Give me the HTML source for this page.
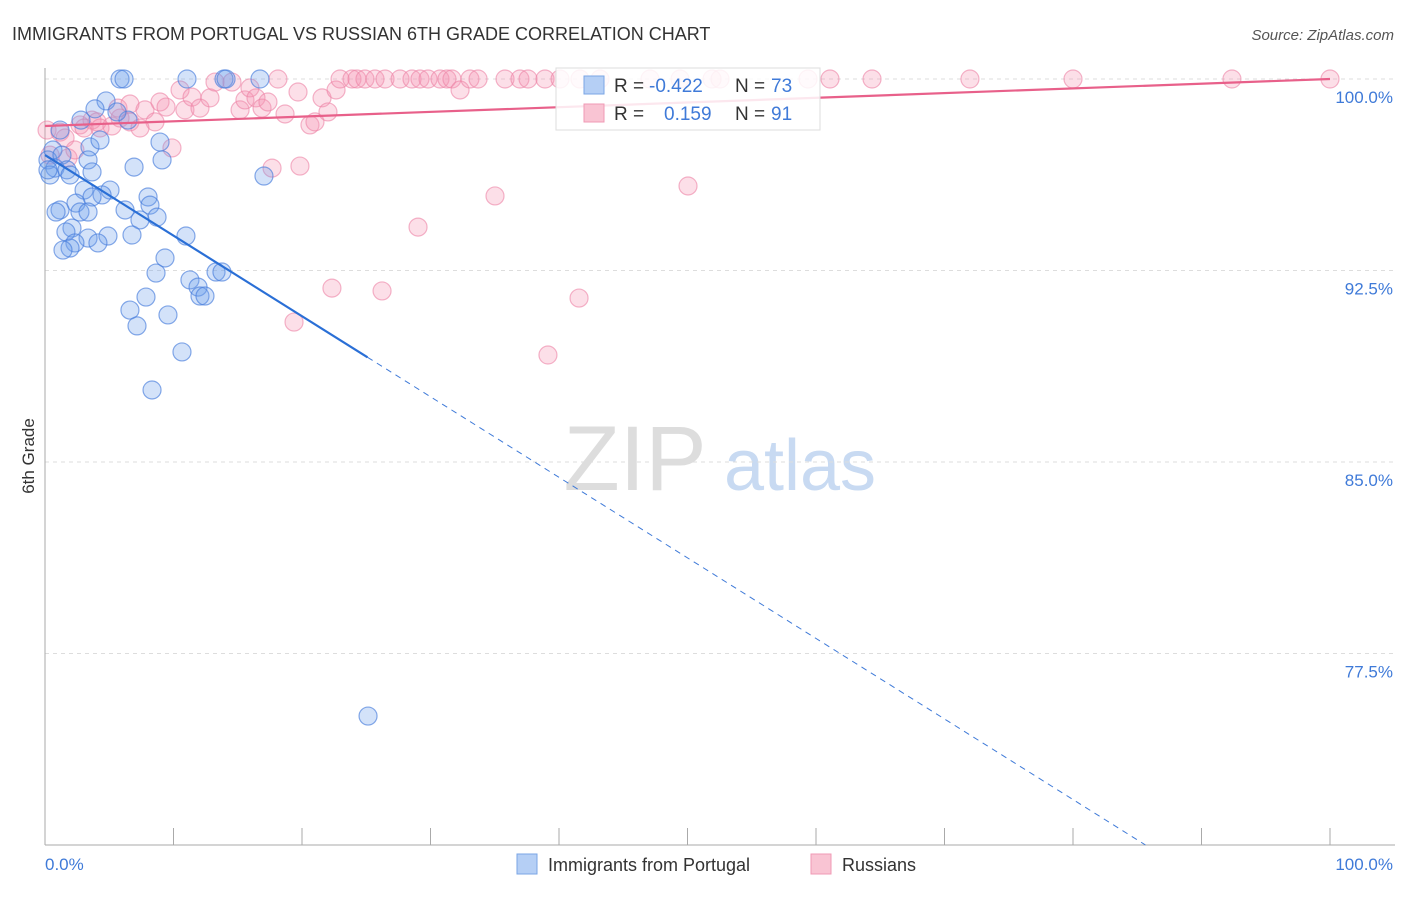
<!DOCTYPE html>
<html><head><meta charset="utf-8"><style>
body{margin:0;background:#fff;font-family:"Liberation Sans",sans-serif}
svg text{font-family:"Liberation Sans",sans-serif}
</style></head><body>
<svg width="1406" height="892" viewBox="0 0 1406 892" xmlns="http://www.w3.org/2000/svg">
<text x="12" y="40" font-size="18" fill="#333">IMMIGRANTS FROM PORTUGAL VS RUSSIAN 6TH GRADE CORRELATION CHART</text>
<text x="1394" y="40" font-size="15" fill="#555" text-anchor="end" font-style="italic">Source: ZipAtlas.com</text>
<g>
<text x="635" y="490" font-size="92" fill="#ddd" text-anchor="middle" font-family="Liberation Serif,serif">ZIP</text>
<text x="800" y="490" font-size="72" fill="#c8daf2" text-anchor="middle">atlas</text>
</g>
<g id="grid"></g>
<g id="axes"></g>
<g id="marks"></g>
<text x="34" y="456" font-size="17" fill="#333" text-anchor="middle" transform="rotate(-90 34 456)">6th Grade</text>
<g>
<rect x="556" y="68" width="264" height="62" fill="#fff" fill-opacity="0.85" stroke="#ddd"/>
<rect x="584" y="76" width="20" height="18" fill="#b5cff5" stroke="#7aa5e5"/>
<rect x="584" y="104" width="20" height="18" fill="#f9c4d3" stroke="#f09ab4"/>
<text x="614" y="92" font-size="19" fill="#333">R =</text>
<text x="649" y="92" font-size="19" fill="#3f7ad8">-0.422</text>
<text x="735" y="92" font-size="19" fill="#333">N =</text>
<text x="771" y="92" font-size="19" fill="#3f7ad8">73</text>
<text x="614" y="120" font-size="19" fill="#333">R =</text>
<text x="664" y="120" font-size="19" fill="#3f7ad8">0.159</text>
<text x="735" y="120" font-size="19" fill="#333">N =</text>
<text x="771" y="120" font-size="19" fill="#3f7ad8">91</text>
</g>
<g>
<rect x="517" y="854" width="20" height="20" fill="#b5cff5" stroke="#7aa5e5"/>
<text x="548" y="871" font-size="18" fill="#333">Immigrants from Portugal</text>
<rect x="811" y="854" width="20" height="20" fill="#f9c4d3" stroke="#f09ab4"/>
<text x="842" y="871" font-size="18" fill="#333">Russians</text>
</g>
</svg>
<script>
const yTicks=[100,92.5,85,77.5];
const yTickLabels=["100.0%","92.5%","85.0%","77.5%"];
const xLabels=["0.0%","100.0%"];
const blueX=[5.84,6.15,11.05,13.93,14.09,16.73,4.75,3.89,2.80,6.46,5.60,1.17,0.62,0.23,0.78,0.39,1.32,1.71,3.50,4.28,3.35,3.66,1.95,8.95,9.11,6.93,5.06,4.44,3.04,3.66,2.41,1.17,0.86,2.72,3.35,6.23,8.02,8.17,8.72,7.39,2.10,1.63,4.90,3.35,2.33,1.95,1.40,4.12,6.77,10.97,9.34,8.64,11.28,11.91,12.06,12.45,13.31,13.77,7.86,6.61,7.16,9.57,10.66,8.33,25.14,17.04,0.23];
const blueY=[100,100,100,100,100,100,99.14,98.83,98.39,98.39,98.71,98.0,97.22,96.83,96.51,96.24,97.02,96.44,97.34,97.61,96.83,96.36,96.24,97.53,96.83,96.55,95.65,95.46,95.65,95.38,95.14,94.87,94.79,94.79,94.79,94.87,95.38,95.06,94.59,94.48,94.16,94.01,93.85,93.77,93.58,93.38,93.30,93.58,93.89,93.85,92.99,92.40,92.13,91.85,91.50,91.50,92.44,92.44,91.46,90.95,90.33,90.76,89.31,87.82,75.05,96.20,96.44];
const pinkX=[0.16,1.17,1.56,2.72,3.66,4.05,3.04,4.28,5.21,5.84,6.61,5.68,6.61,7.78,8.56,7.39,8.95,9.42,10.51,10.89,11.44,12.06,12.84,13.23,14.55,15.18,15.56,15.95,16.42,16.89,17.35,18.13,18.68,19.69,20.62,21.01,21.56,22.02,22.65,22.96,23.89,24.28,24.90,25.68,26.46,27.63,28.56,29.18,29.81,30.74,31.28,31.67,32.30,33.07,33.70,35.80,36.96,37.59,38.91,40.08,41.63,43.19,47.08,49.42,51.91,52.53,59.38,61.09,64.36,71.98,80.00,92.37,100,9.88,17.67,19.84,29.03,35.02,50.04,22.33,26.23,41.56,19.38,39.14,1.79,2.33,0.39];
const pinkY=[98.0,97.92,97.69,98.20,98.39,98.32,98.08,98.08,98.16,98.47,98.32,98.86,99.02,98.79,98.32,98.08,99.10,98.90,99.57,98.79,99.29,98.86,99.26,99.88,99.88,98.79,99.18,99.65,99.26,98.86,99.10,100,98.63,99.49,98.20,98.32,99.26,98.71,99.57,100,100,100,100,100,100,100,100,100,100,100,100,100,99.57,100,100,100,100,100,100,100,100,100,100,100,100,100,100,100,100,100,100,100,100,97.30,96.51,96.59,94.20,95.42,95.81,91.81,91.70,91.42,90.48,89.19,96.91,97.22,97.02];
const blueTrend=[97.02,-0.3155,25.1];
const pinkTrend=[98.16,0.0184];
const NS="http://www.w3.org/2000/svg";
const X0=45,X1=1330,Y100=79,PXPER=191.5/7.5;
function xs(v){return X0+(X1-X0)*v/100;}
function ys(v){return Y100+(100-v)*PXPER;}
function mk(tag,attrs,parent){const e=document.createElementNS(NS,tag);for(const k in attrs)e.setAttribute(k,attrs[k]);parent.appendChild(e);return e;}
const grid=document.getElementById('grid'),axes=document.getElementById('axes'),marks=document.getElementById('marks');
yTicks.forEach((t,i)=>{
 const l=mk('line',{x1:45,x2:1395,y1:ys(t),y2:ys(t),stroke:'#ddd','stroke-dasharray':'4,4'},grid);
 
 
 const tx=mk('text',{x:1393,y:ys(t)+24,'font-size':17,fill:'#3f7ad8','text-anchor':'end'},axes);
 tx.textContent=yTickLabels[i];
 
 
});
const ya=mk('line',{x1:45,x2:45,y1:68,y2:845,stroke:'#aaa'},axes);


const xa=mk('line',{x1:45,x2:1395,y1:845,y2:845,stroke:'#aaa'},axes);


for(let i=0;i<=10;i++){
 const t=mk('line',{x1:xs(i*10),x2:xs(i*10),y1:828,y2:845,stroke:'#aaa'},axes);
 
 
}
[[0,'start',45],[100,'end',1393]].forEach((a,i)=>{
 const tx=mk('text',{x:a[2],y:870,'font-size':17,fill:'#3f7ad8','text-anchor':a[1]},axes);
 tx.textContent=xLabels[i];
 
 
});
pinkX.forEach((x,i)=>{
 const c=mk('circle',{cx:xs(x),cy:ys(pinkY[i]),r:9,fill:'rgba(244,150,180,0.3)',stroke:'rgba(236,130,165,0.6)','stroke-width':1.2},marks);
 
 
});
blueX.forEach((x,i)=>{
 const c=mk('circle',{cx:xs(x),cy:ys(blueY[i]),r:9,fill:'rgba(110,160,235,0.3)',stroke:'rgba(70,125,220,0.65)','stroke-width':1.2},marks);
 
 
});
const bEnd=(70-blueTrend[0])/blueTrend[1];
const bd=mk('line',{x1:xs(blueTrend[2]),y1:ys(blueTrend[0]+blueTrend[1]*blueTrend[2]),x2:xs(bEnd),y2:ys(70),stroke:'#3f7ad8','stroke-width':1,'stroke-dasharray':'6,5'},marks);


const bs=mk('line',{x1:xs(0),y1:ys(blueTrend[0]),x2:xs(blueTrend[2]),y2:ys(blueTrend[0]+blueTrend[1]*blueTrend[2]),stroke:'#2a6fd6','stroke-width':2.2},marks);


const ps=mk('line',{x1:xs(0),y1:ys(pinkTrend[0]),x2:xs(100),y2:ys(pinkTrend[0]+pinkTrend[1]*100),stroke:'#e8608a','stroke-width':2.2},marks);


</script>
</body></html>
